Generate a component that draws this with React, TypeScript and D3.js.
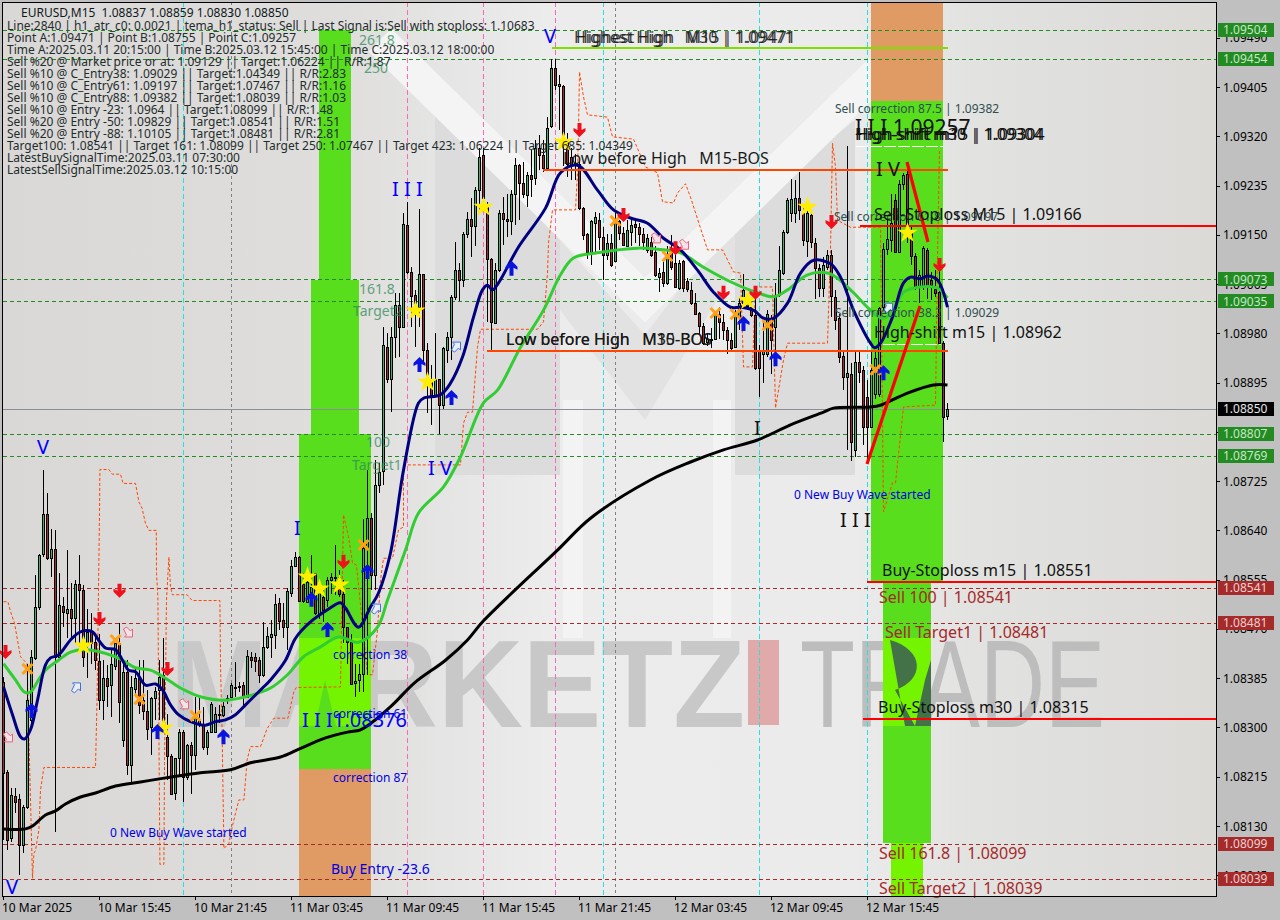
import React from "react";
import * as d3 from "d3";

// ---- price series, 1e-5 above 1.08000 ----
const opens = [379,224,109,182,176,97,163,313,419,508,599,668,593,608,422,510,498,505,489,548,538,445,465,448,415,348,385,373,406,445,278,395,235,367,385,347,329,300,350,364,390,284,251,187,247,293,215,270,252,307,306,267,293,293,322,321,350,353,370,371,373,353,422,422,416,390,438,456,459,514,485,474,532,578,594,548,517,525,566,496,525,520,554,559,560,531,473,448,377,382,393,612,661,563,718,742,957,902,974,1029,991,1167,1086,1046,1026,1083,951,902,874,902,856,951,973,1043,1090,1072,1152,1178,1165,1228,1288,1201,1108,998,1089,1188,1178,1173,1221,1270,1239,1218,1253,1248,1299,1288,1265,1338,1437,1407,1407,1313,1285,1274,1273,1197,1151,1121,1170,1175,1147,1115,1135,1105,1173,1153,1131,1155,1168,1164,1152,1124,1138,1121,1078,1086,1066,1118,1101,1058,1104,1070,1055,1033,1015,993,965,970,971,1014,1000,986,968,957,1009,1032,1043,1026,1012,951,945,945,1003,991,1046,1084,1154,1187,1187,1213,1187,1140,1184,1136,1092,1059,1095,1115,1043,1006,941,904,910,779,931,917,871,819,876,876,1026,1125,1141,1210,1121,1237,1255,1158,1114,1060,1060,1124,1072,1056,1052,964,837];
const highs = [387,226,195,195,186,166,410,433,563,599,744,704,643,640,566,525,606,549,554,597,546,505,497,462,462,416,408,433,445,480,410,416,388,405,416,416,364,353,370,416,454,324,255,247,298,295,272,275,353,350,336,295,344,336,339,344,356,376,413,379,379,433,431,428,422,482,474,485,531,523,514,540,589,603,596,566,571,597,566,543,543,560,566,615,571,554,474,462,410,410,660,744,670,761,756,991,980,991,1049,1049,1187,1207,1095,1055,1194,1083,963,925,980,902,957,983,1046,1138,1101,1155,1190,1213,1233,1299,1299,1207,1110,1101,1193,1216,1221,1227,1282,1273,1276,1259,1296,1313,1322,1313,1354,1453,1454,1425,1409,1325,1300,1290,1276,1198,1153,1176,1190,1187,1164,1152,1152,1187,1176,1164,1176,1181,1176,1170,1161,1152,1147,1130,1092,1107,1130,1150,1121,1106,1107,1075,1069,1049,1017,997,980,989,1017,1026,1014,991,980,1020,1043,1083,1055,1035,1043,960,1005,1020,1012,1066,1130,1158,1213,1247,1244,1259,1199,1197,1193,1144,1100,1112,1124,1124,1055,1014,951,1303,928,951,951,923,900,950,950,1026,1135,1175,1220,1221,1245,1256,1276,1164,1118,1089,1130,1127,1086,1089,1100,966,859];
const lows = [106,88,103,152,45,83,160,295,416,503,594,589,560,120,422,474,454,451,445,439,405,385,410,399,330,313,336,318,399,307,267,218,203,353,324,313,278,252,313,313,295,209,183,175,215,172,209,186,226,301,261,252,290,290,307,318,341,350,353,362,336,350,402,396,376,387,436,419,436,468,454,433,525,577,517,514,514,511,494,488,482,508,531,528,525,445,410,373,352,362,362,390,537,537,704,718,894,845,937,940,989,1083,991,957,991,928,842,822,870,807,849,928,934,1037,1035,1060,1144,1112,1130,1193,1193,1000,951,996,1086,1132,1147,1150,1167,1175,1213,1198,1216,1236,1262,1259,1262,1335,1400,1330,1268,1250,1245,1245,1193,1141,1109,1098,1118,1124,1072,1106,1095,1104,1141,1130,1130,1130,1135,1130,1124,1118,1112,1078,1052,1060,1063,1089,1058,1055,1052,1052,1029,1012,977,960,958,954,970,971,968,945,947,954,986,1026,1020,1009,917,871,894,940,910,923,1043,1081,1152,1172,1170,1175,1130,1112,1127,1040,1043,1043,1090,1009,986,928,882,779,759,767,894,787,759,816,866,870,1020,1115,1120,1118,1118,1227,1135,1098,1055,1032,1055,1040,1037,1043,963,793,830];
const closes = [221,106,183,172,97,162,347,421,508,598,668,592,608,422,511,500,504,489,548,538,422,465,445,416,347,385,371,409,445,344,395,235,369,385,339,329,298,350,363,387,310,250,186,247,293,215,270,252,321,312,267,293,340,323,323,337,351,373,370,372,352,423,416,415,390,439,458,461,513,484,474,535,578,594,519,519,551,543,497,537,503,554,559,560,531,473,448,375,380,392,609,661,563,718,741,960,902,974,1029,991,1169,1085,1045,1032,1083,951,894,874,902,856,954,973,1043,1090,1072,1152,1178,1165,1228,1285,1213,1108,1000,1090,1187,1178,1173,1220,1270,1239,1221,1253,1247,1299,1288,1265,1334,1437,1408,1411,1313,1273,1272,1270,1196,1150,1121,1173,1181,1147,1115,1135,1098,1175,1153,1132,1158,1167,1163,1152,1138,1144,1115,1081,1084,1066,1112,1095,1060,1102,1058,1056,1032,1014,993,963,971,969,1014,1000,986,968,954,1014,1032,1055,1028,1012,920,920,951,1014,968,1046,1090,1154,1210,1212,1213,1193,1141,1187,1138,1092,1059,1098,1115,1044,1003,940,904,911,793,931,914,819,819,917,937,1023,1125,1142,1170,1121,1237,1253,1158,1114,1060,1081,1127,1060,1063,1049,964,835,850];

const blueLine: [number, number][] = [[0,370],[2.25,322],[4.25,284],[5.25,280],[6.75,296],[8.5,347],[10.5,408],[11.75,420],[13.75,425],[16.75,451],[19.25,465],[22.25,465],[23.75,451],[25.5,437],[28,434],[29.75,416],[31.25,399],[33,396],[35.5,373],[38,375],[39.75,365],[41.75,339],[43.75,322],[46.75,310],[50.5,304],[53,310],[55.5,313],[58,322],[60.5,339],[63,356],[64.75,368],[66.75,382],[70.5,416],[73,454],[76.75,482],[81,503],[84.25,515],[85.5,506],[88.75,473],[91.75,508],[93.75,532],[96.75,601],[100,744],[103.75,860],[105,868],[109.25,874],[111.75,894],[114.75,939],[117.5,1008],[119.75,1055],[121,1063],[122.25,1055],[123.75,1067],[128.75,1129],[135.5,1196],[139.25,1257],[143.5,1270],[148.5,1227],[152.5,1193],[156.75,1179],[161,1170],[165,1144],[169.25,1124],[173.5,1089],[177.5,1051],[181.75,1025],[184.25,1025],[187.5,1020],[190,1006],[192.5,1006],[196,1032],[199.25,1084],[202.5,1106],[206.75,1100],[209.25,1077],[212.5,1020],[216.75,963],[217.75,955],[219.25,963],[222.25,1008],[225,1067],[226.75,1077],[229.25,1074],[231,1079],[233.5,1072],[236,1025]];
const greenLine: [number, number][] = [[0,410],[3,382],[5.25,361],[6.75,361],[8.75,382],[10.5,399],[13.75,416],[16.75,430],[20.5,434],[28,422],[30.5,413],[33,403],[36.75,399],[40.5,385],[44.25,368],[49.25,353],[55.5,347],[60.5,353],[63,358],[66.75,368],[71,391],[75,422],[79.25,439],[83.75,456],[88.75,447],[93.5,473],[96,520],[100.5,606],[103.75,670],[110,715],[114.25,767],[120,860],[123.5,882],[129.25,956],[135,1020],[139.25,1081],[142.5,1110],[148.5,1119],[158.5,1127],[163.5,1125],[169.25,1119],[175,1094],[181.75,1069],[188.5,1050],[192.5,1043],[196,1055],[201,1081],[206,1084],[208.5,1075],[212.5,1050],[216.75,1020],[219.75,1006],[222.25,1017],[225,1051],[229.25,1060],[233.5,1058],[236,1041]];
const blackLine: [number, number][] = [[0,125],[5.5,125],[7.25,130],[10.5,149],[13,156],[15.5,168],[19.25,180],[23,187],[28,199],[34.25,206],[40.5,213],[49.25,222],[56.75,227],[61.75,239],[69.25,249],[74,263],[80.5,282],[86,292],[89.25,296],[92,308],[97.25,339],[102.75,377],[110.5,416],[116,451],[120,484],[138.5,606],[146.75,661],[161.75,727],[171.75,758],[180,779],[188.5,796],[196.75,822],[205,844],[207.5,851],[216.75,853],[219.25,856],[226,877],[232.5,891],[236,891]];
const stopLine: [number, number][] = [[0,517],[1.1,517],[1.75,500],[2.75,480],[3.8,439],[4.25,422],[5.9,410],[6.3,295],[6.9,135],[7.25,40],[7.6,83],[8,88],[8.85,123],[9.25,192],[10.1,231],[23,231],[23.4,353],[24,669],[24.1,745],[26.35,745],[27.2,737],[29.25,737],[29.9,721],[33,721],[33.85,689],[34.65,678],[35.5,652],[36.35,640],[38.2,640],[38.25,566],[38.6,525],[39.1,64],[40.1,64],[40.25,238],[40.75,520],[41.35,594],[41.75,543],[42.2,529],[45.9,529],[47.15,519],[54.1,519],[54.25,410],[54.65,295],[55.1,91],[56.35,100],[57.2,129],[58,152],[58.85,175],[60.1,175],[60.5,209],[60.9,244],[61.75,267],[64.25,267],[65.9,298],[67.6,316],[71.1,316],[72.6,362],[73.2,369],[84.25,370],[85,667],[86.25,629],[87.25,584],[88.25,580],[91,391],[92.25,391],[93.5,468],[94.25,554],[95,592],[97.25,592],[98.75,641],[100,646],[100,753],[114.25,753],[115,825],[116,844],[117.25,844],[118.5,956],[119.25,987],[133.5,987],[135,1000],[136,1084],[136.25,1136],[137.25,1193],[143,1193],[143.5,1257],[143.75,1331],[144,1431],[145,1388],[146,1357],[151,1353],[152.25,1319],[157.5,1315],[160.5,1267],[163.5,1257],[164.75,1207],[167.5,1205],[168.5,1222],[170.5,1238],[171.75,1215],[176,1124],[179.75,1124],[182.5,1086],[184.25,1084],[185,922],[187.25,922],[188,1060],[192.25,1060],[193,851],[195,934],[196,963],[206,963],[206.75,1124],[207.25,1308],[208,1267],[208.5,1175],[211.75,1163],[219.25,1163],[220,672],[222.25,722],[223,722],[225,853],[233,856],[233.5,1112],[234,1296]];

const stars: [number, number][] = [[20,441],[40,299],[76,560],[79,539],[84,546],[103,1019],[106,896],[120,1198],[140,1310],[186,1037],[201,1198],[226,1153]];
const crosses: [number, number][] = [[6,401],[28,451],[34,349],[48,320],[90,615],[153,1174],[166,1113],[178,1015],[183,1013],[191,994],[218,917]];
const sellArrows: [number, number][] = [[0.5,430],[29,536],[24,487],[41,401],[85,586],[144,1331],[155,1184],[168,1127],[180,1050],[188,1050],[207,1172],[234,1098]];
const buyArrows: [number, number][] = [[7,330],[55,285],[38.5,294],[77,522],[81,470],[91,570],[104,927],[112,870],[127,1093],[185,998],[193,937],[220,913]];
const hollowSell: [number, number][] = [[1,282],[31,463],[45,339],[163,1143],[170,1132]];
const hollowBuy: [number, number][] = [[18,370],[93,506],[113,958],[221,1025]];

const greenLevels = [1.09504, 1.09454, 1.09073, 1.09035, 1.08807, 1.08769];
const redLevels = [1.08541, 1.08481, 1.08099, 1.08039];
const lastPrice = 1.0885;
const axisPrices = [1.0949, 1.09405, 1.0932, 1.09235, 1.0915, 1.09065, 1.0898, 1.08895, 1.0881, 1.08725, 1.0864, 1.08555, 1.0847, 1.08385, 1.083, 1.08215, 1.0813, 1.08045];
const timeLabels = ["10 Mar 2025", "10 Mar 15:45", "10 Mar 21:45", "11 Mar 03:45", "11 Mar 09:45", "11 Mar 15:45", "11 Mar 21:45", "12 Mar 03:45", "12 Mar 09:45", "12 Mar 15:45"];
const cyanBars = [45, 150, 189, 216];
const grayBars = [57, 153];
const pinkBars = [101, 120, 138];

const infoLines = [
  "Line:2840 | h1_atr_c0: 0.0021 | tema_h1_status: Sell | Last Signal is:Sell with stoploss: 1.10683",
  "Point A:1.09471 | Point B:1.08755 | Point C:1.09257",
  "Time A:2025.03.11 20:15:00 | Time B:2025.03.12 15:45:00 | Time C:2025.03.12 18:00:00",
  "Sell %20 @ Market price or at: 1.09129 || Target:1.06224 || R/R:1.87",
  "Sell %10 @ C_Entry38: 1.09029 || Target:1.04349 || R/R:2.83",
  "Sell %10 @ C_Entry61: 1.09197 || Target:1.07467 || R/R:1.16",
  "Sell %10 @ C_Entry88: 1.09382 || Target:1.08039 || R/R:1.03",
  "Sell %10 @ Entry -23: 1.0964 || Target:1.08099 || R/R:1.48",
  "Sell %20 @ Entry -50: 1.09829 || Target:1.08541 || R/R:1.51",
  "Sell %20 @ Entry -88: 1.10105 || Target:1.08481 || R/R:2.81",
  "Target100: 1.08541 || Target 161: 1.08099 || Target 250: 1.07467 || Target 423: 1.06224 || Target 685: 1.04349",
  "LatestBuySignalTime:2025.03.11 07:30:00",
  "LatestSellSignalTime:2025.03.12 10:15:00",
];

const W = 1280, H = 920;
const L = 3, R = 1216, T = 2, B = 896;
const x = d3.scaleLinear().domain([0, 1]).range([3.5, 7.5]);
const yPrice = d3.scaleLinear().domain([1.0813, 1.09405]).range([826, 87]);
const yPts = (v: number) => yPrice(1.08 + v / 100000);
const FONT = "'Noto Sans', 'Open Sans', sans-serif";
const lineGen = d3.line<[number, number]>().x((d) => x(d[0])).y((d) => yPts(d[1]));
const smoothGen = d3.line<[number, number]>().x((d) => x(d[0])).y((d) => yPts(d[1])).curve(d3.curveCatmullRom.alpha(0.5));

const Txt = ({ px, py, s, fill = "#000", size = 12, w, anchor, op, weight }: any) => (
  <text x={px} y={py} fill={fill} fontSize={size} fontFamily={FONT} textLength={w} lengthAdjust="spacingAndGlyphs" textAnchor={anchor} opacity={op} fontWeight={weight} style={{ whiteSpace: "pre" }}>{s}</text>
);

const starPath = d3.symbol().type(d3.symbolStar).size(130)() as string;

export default function App() {
  return (
    <svg width={W} height={H} viewBox={`0 0 ${W} ${H}`} style={{ position: "fixed", left: 0, top: 0, background: "#c0c0c0" }}>
      <defs>
        <linearGradient id="bg" x1="0" y1="0" x2="1" y2="0">
          <stop offset="0" stopColor="#d9d8d6" />
          <stop offset="0.28" stopColor="#dfdedd" />
          <stop offset="0.45" stopColor="#ececec" />
          <stop offset="0.7" stopColor="#ebebeb" />
          <stop offset="0.8" stopColor="#e2e2e1" />
          <stop offset="1" stopColor="#dbdad7" />
        </linearGradient>
        <clipPath id="plot"><rect x={L} y={T} width={R - L} height={B - T} /></clipPath>
      </defs>
      <rect x={L} y={T} width={R - L} height={B - T} fill="url(#bg)" />

      {/* watermark */}
      <g clipPath="url(#plot)">
        <polygon points="435,105 560,240 560,475 435,475" fill="#dcdcdc" />
        <polygon points="855,120 735,215 735,475 855,475" fill="#dcdcdc" />
        <polygon points="560,240 645,335 735,215 735,270 645,420 560,310" fill="#e2e2e2" />
        <polyline points="380,40 645,300 880,70" fill="none" stroke="#f4f4f4" strokeWidth={32} />
        <rect x={563} y={400} width={20} height={238} fill="#f3f3f3" />
        <rect x={713} y={400} width={18} height={238} fill="#f3f3f3" />
        <text x={170} y={727} fontFamily="'Liberation Sans', sans-serif" fontWeight={700} fontSize={124} fill="#c8c8c8" textLength={575} lengthAdjust="spacingAndGlyphs">MARKETZ</text>
        <rect x={748} y={640} width={31} height={85} fill="#e0aaaa" />
        <text x={800} y={727} fontFamily="'Liberation Sans', sans-serif" fontSize={124} fill="#bdbdbd" textLength={305} lengthAdjust="spacingAndGlyphs">TRADE</text>
      </g>

      {/* zones */}
      <g shapeRendering="crispEdges">
        <rect x={319} y={30} width={32} height={250} fill="#58de1c" />
        <rect x={311} y={280} width={48} height={154} fill="#58de1c" />
        <rect x={299} y={434} width={72} height={335} fill="#58de1c" />
        <rect x={299} y={638} width={72} height={88} fill="#74f400" />
        <rect x={299} y={769} width={72} height={127} fill="#e09a64" />
        <rect x={871} y={3} width={72} height={98} fill="#e09a64" />
        <rect x={871} y={101} width={72} height={480} fill="#58de1c" />
        <rect x={883} y={581} width={48} height={262} fill="#58de1c" />
        <rect x={883} y={638} width={48} height={88} fill="#74f400" />
        <rect x={891} y={843} width={32} height={53} fill="#74f400" />
      </g>
      <polygon points="315,726 325,680 336,726" fill="#58de1c" />
      <path d="M890,640 C925,650 925,680 895,690 L915,726 L925,680 L931,660 L931,726 L905,726 Z" fill="#37505a" opacity={0.8} />

      {/* levels */}
      <g clipPath="url(#plot)">
        {[...cyanBars.map((b) => [b, "#27e0e0", "5,3"]), ...grayBars.map((b) => [b, "#808080", "3,3"]), ...pinkBars.map((b) => [b, "#ff69b4", "5,3"])].map(([b, c, d]: any, i) => (
          <line key={i} x1={x(b) - 0.0} x2={x(b)} y1={T} y2={B} stroke={c} strokeDasharray={d} shapeRendering="crispEdges" />
        ))}
        {greenLevels.map((p) => <line key={p} x1={L} x2={R} y1={Math.round(yPrice(p)) + 0.5} y2={Math.round(yPrice(p)) + 0.5} stroke="#228b22" strokeDasharray="4,3" shapeRendering="crispEdges" />)}
        {redLevels.map((p) => <line key={p} x1={L} x2={R} y1={Math.round(yPrice(p)) + 0.5} y2={Math.round(yPrice(p)) + 0.5} stroke="#a52a2a" strokeDasharray="4,3" shapeRendering="crispEdges" />)}
        <line x1={L} x2={R} y1={Math.round(yPrice(lastPrice)) + 0.5} y2={Math.round(yPrice(lastPrice)) + 0.5} stroke="#8a8f96" shapeRendering="crispEdges" />
      </g>

      {/* chart */}
      <g clipPath="url(#plot)">
        <path d={lineGen(stopLine) as string} fill="none" stroke="#ff4500" strokeDasharray="3,2" strokeWidth={1} />
        {opens.map((o, i) => {
          const c = closes[i], h = highs[i], l = lows[i];
          const cx = x(i);
          const top = Math.round(yPts(Math.max(o, c))) + 0.5;
          const bot = Math.round(yPts(Math.min(o, c))) + 0.5;
          return (
            <g key={i} shapeRendering="crispEdges">
              <line x1={cx} x2={cx} y1={yPts(h)} y2={yPts(l)} stroke="#000" />
              <rect x={cx - 1} y={top} width={2} height={Math.max(bot - top, 1)} fill={c >= o ? "#3cb371" : "#a52a2a"} stroke="#000" />
            </g>
          );
        })}
        <path d={smoothGen(blackLine) as string} fill="none" stroke="#000" strokeWidth={3} />
        <path d={smoothGen(greenLine) as string} fill="none" stroke="#32cd32" strokeWidth={3} />
        <path d={smoothGen(blueLine) as string} fill="none" stroke="#000080" strokeWidth={3} />
      </g>

      {/* structure lines */}
      <g shapeRendering="crispEdges">
        <rect x={543} y={169} width={405} height={2.4} fill="#ff4500" />
        <rect x={487} y={350} width={461} height={2.4} fill="#ff4500" />
        <rect x={552} y={47} width={396} height={2.4} fill="#7fe000" />
        <rect x={860} y={225} width={356} height={2} fill="#ff0000" />
        <rect x={867} y={581} width={349} height={2} fill="#ff0000" />
        <rect x={863} y={718} width={353} height={2} fill="#ff0000" />
      </g>
      <line x1={856} x2={943} y1={146.5} y2={146.5} stroke="#fff" strokeDasharray="12,2" />
      <line x1={883} x2={941} y1={344.5} y2={344.5} stroke="#fff" strokeDasharray="12,2" />
      <line x1={867} y1={464} x2={920} y2={306} stroke="#ff0000" strokeWidth={3.2} />
      <line x1={907} y1={162} x2={928} y2={242} stroke="#ff0000" strokeWidth={3.2} />

      {/* signals */}
      {crosses.map(([b, v], i) => (
        <g key={i} transform={`translate(${x(b)},${yPts(v)})`} stroke="#ffa016" strokeWidth={3}>
          <line x1={-5} y1={-5} x2={5} y2={5} /><line x1={-5} y1={5} x2={5} y2={-5} />
        </g>
      ))}
      {stars.map(([b, v], i) => <path key={i} d={starPath} transform={`translate(${x(b)},${yPts(v)})`} fill="#ffee00" />)}
      {sellArrows.map(([b, v], i) => (
        <path key={i} d="M-2,-7 L2,-7 L2,0 L6,-2 L6,1 L0,7 L-6,1 L-6,-2 L-2,0 Z" transform={`translate(${x(b)},${yPts(v)})`} fill="#f0101c" />
      ))}
      {buyArrows.map(([b, v], i) => (
        <path key={i} d="M-2,8 L2,8 L2,0 L6,2 L6,-1 L0,-7 L-6,-1 L-6,2 L-2,0 Z" transform={`translate(${x(b)},${yPts(v)})`} fill="#0a14e0" />
      ))}
      {hollowSell.map(([b, v], i) => (
        <path key={i} d="M-4,-4 L-1,-6 L3,-2 L5,-4 L5,4 L-3,4 L-1,2 Z" transform={`translate(${x(b)},${yPts(v)})`} fill="#f4e4e8" stroke="#f06080" />
      ))}
      {hollowBuy.map(([b, v], i) => (
        <path key={i} d="M-4,4 L-1,6 L3,2 L5,4 L5,-4 L-3,-4 L-1,-2 Z" transform={`translate(${x(b)},${yPts(v)})`} fill="#e8eef4" stroke="#4070e0" />
      ))}

      {/* overlay texts */}
      <g>
        <Txt px={21} py={17} s="EURUSD,M15  1.08837 1.08859 1.08830 1.08850" fill="#101820" />
        {infoLines.map((t, i) => <Txt key={i} px={7} py={30 + i * 12} s={t} fill="#1f2d2d" />)}

        {[["261.8", 359, 45], ["250", 364, 73], ["161.8", 359, 294], ["Target2", 353, 316], ["100", 366, 447], ["Target1", 352, 470]].map(([t, a, b]: any) => (
          <Txt key={t} px={a} py={b} s={t} fill="#2e8b57" size={14} op={0.75} />
        ))}

        <Txt px={576} py={43} s="Highest High   M15 | 1.09471" fill="#1a1a1a" size={16} op={0.85} />
        <Txt px={574} py={43} s="Highest High   M30 | 1.09471" fill="#1a1a1a" size={16} op={0.85} />
        <Txt px={563} py={164} s="Low before High   M15-BOS" size={16} fill="#1a1a1a" />
        <Txt px={506} py={345} s="Low before High   M15-BOS" size={16} fill="#1a1a1a" />
        <Txt px={506} py={345} s="Low before High   M30-BOS" size={16} fill="#1a1a1a" />
        <Txt px={855} py={135} s="I I I 1.09257" size={21} fill="#111" />
        <Txt px={855} py={140} s="High-shift m30 | 1.09304" size={16} fill="#111" />
        <Txt px={857} py={140} s="High-shift m15 | 1.09304" size={16} fill="#111" />
        <Txt px={835} py={113} s="Sell correction 87.5 | 1.09382" fill="#2f4f4f" />
        <Txt px={834} py={221} s="Sell correction 61.8 | 1.09197" fill="#2f4f4f" />
        <Txt px={835} py={317} s="Sell correction 38.2 | 1.09029" fill="#2f4f4f" />
        <Txt px={874} py={220} s="Sell-Stoploss M15 | 1.09166" size={16} fill="#111" />
        <Txt px={874} py={338} s="High-shift m15 | 1.08962" size={16} fill="#111" />
        <Txt px={882} py={576} s="Buy-Stoploss m15 | 1.08551" size={16} fill="#111" />
        <Txt px={878} py={713} s="Buy-Stoploss m30 | 1.08315" size={16} fill="#111" />
        <Txt px={879} py={603} s="Sell 100 | 1.08541" size={16} fill="#a52a2a" />
        <Txt px={885} py={638} s="Sell Target1 | 1.08481" size={16} fill="#a52a2a" />
        <Txt px={879} py={859} s="Sell 161.8 | 1.08099" size={16} fill="#a52a2a" />
        <Txt px={879} py={894} s="Sell Target2 | 1.08039" size={16} fill="#a52a2a" />

        <Txt px={794} py={499} s="0 New Buy Wave started" fill="#0000e0" />
        <Txt px={110} py={837} s="0 New Buy Wave started" fill="#0000e0" />
        <Txt px={333} py={659} s="correction 38" fill="#0000e0" />
        <Txt px={333} py={718} s="correction 61" fill="#0000e0" />
        <Txt px={333} py={782} s="correction 87" fill="#0000e0" />
        <Txt px={331} py={874} s="Buy Entry -23.6" fill="#0000e0" size={14} />
        <Txt px={302} py={727} s="I I I" fill="#0000ff" size={20} />
        <Txt px={333} py={727} s="1.08376" fill="#0000ff" size={20} />
        <Txt px={392} py={196} s="I I I" fill="#0000ff" size={20} />
        <Txt px={428} py={475} s="I V" fill="#0000ff" size={20} />
        <Txt px={294} py={535} s="I" fill="#0000ff" size={20} />
        <Txt px={37} py={454} s="V" fill="#0000ff" size={20} />
        <Txt px={6} py={894} s="V" fill="#0000ff" size={20} />
        <Txt px={544} py={43} s="V" fill="#0000ff" size={20} />
        <Txt px={876} py={176} s="I V" fill="#111" size={20} />
        <Txt px={840} py={527} s="I I I" fill="#111" size={20} />
        <Txt px={754} py={435} s="I" fill="#111" size={20} />
      </g>

      {/* frame and axes */}
      <rect x={2.5} y={2.5} width={R - 2.5} height={B - 2.5} fill="none" stroke="#000" strokeWidth={1} shapeRendering="crispEdges" />
      <g>
        {axisPrices.map((p) => (
          <g key={p}>
            <line x1={R} x2={R + 4} y1={Math.round(yPrice(p)) + 0.5} y2={Math.round(yPrice(p)) + 0.5} stroke="#000" shapeRendering="crispEdges" />
            <Txt px={1223} py={yPrice(p) + 4.5} s={p.toFixed(5)} />
          </g>
        ))}
        {greenLevels.map((p) => (
          <g key={p}>
            <rect x={1218} y={Math.round(yPrice(p)) - 7} width={56} height={14} fill="#228b22" shapeRendering="crispEdges" />
            <Txt px={1223} py={yPrice(p) + 4.5} s={p.toFixed(5)} fill="#c8e6c8" />
          </g>
        ))}
        {redLevels.map((p) => (
          <g key={p}>
            <rect x={1218} y={Math.round(yPrice(p)) - 7} width={56} height={14} fill="#a52a2a" shapeRendering="crispEdges" />
            <Txt px={1223} py={yPrice(p) + 4.5} s={p.toFixed(5)} fill="#ecd0d0" />
          </g>
        ))}
        <rect x={1218} y={Math.round(yPrice(lastPrice)) - 7} width={56} height={14} fill="#000" shapeRendering="crispEdges" />
        <Txt px={1223} py={yPrice(lastPrice) + 4.5} s={lastPrice.toFixed(5)} fill="#e8e8e8" />
        {timeLabels.map((t, i) => (
          <g key={t}>
            <line x1={x(i * 24)} x2={x(i * 24)} y1={B} y2={B + 4} stroke="#000" shapeRendering="crispEdges" />
            <Txt px={x(i * 24) - 1.5} py={912} s={t} />
          </g>
        ))}
      </g>
    </svg>
  );
}
